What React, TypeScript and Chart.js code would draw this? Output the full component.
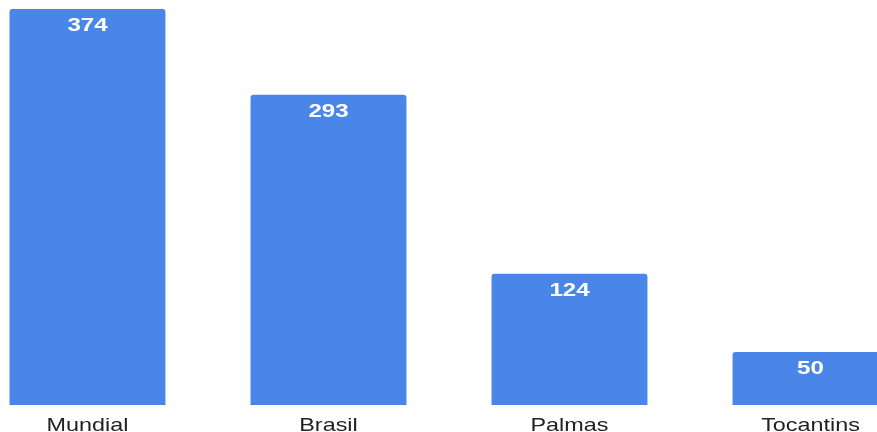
import React, { useEffect, useRef } from "react";
import { Chart, registerables } from "chart.js";

Chart.register(...registerables);

const categories = ["Mundial", "Brasil", "Palmas", "Tocantins"];
const values = [374, 293, 124, 50];

const FONT = "'Liberation Sans', Arial, sans-serif";

function stretchedText(ctx: CanvasRenderingContext2D, text: string, x: number, y: number, sx: number) {
  ctx.save();
  ctx.translate(x, y);
  ctx.scale(sx, 1);
  ctx.fillText(text, 0, 0);
  ctx.restore();
}

const labelPlugin = {
  id: "labels",
  afterDatasetsDraw(chart: any) {
    const ctx: CanvasRenderingContext2D = chart.ctx;
    const meta = chart.getDatasetMeta(0);
    const xScale = chart.scales.x;
    ctx.save();
    ctx.textAlign = "center";
    ctx.textBaseline = "alphabetic";
    ctx.fillStyle = "#ffffff";
    ctx.font = `bold 18px ${FONT}`;
    meta.data.forEach((bar: any, i: number) => {
      stretchedText(ctx, String(values[i]), bar.x, bar.y + 22, 1.34);
    });
    ctx.fillStyle = "#222222";
    ctx.font = `19px ${FONT}`;
    categories.forEach((c, i) => {
      stretchedText(ctx, c, xScale.getPixelForValue(i), chart.chartArea.bottom + 26, 1.23);
    });
    ctx.restore();
  },
};

export default function App() {
  const ref = useRef<HTMLCanvasElement>(null);
  useEffect(() => {
    if (!ref.current) return;
    const chart = new Chart(ref.current, {
      type: "bar",
      data: {
        labels: categories,
        datasets: [
          {
            data: values,
            backgroundColor: "#4a86e8",
            borderRadius: { topLeft: 3, topRight: 3, bottomLeft: 0, bottomRight: 0 },
            borderSkipped: false,
            barPercentage: 0.647,
            categoryPercentage: 1,
          },
        ],
      },
      options: {
        animation: false,
        responsive: false,
        maintainAspectRatio: false,
        layout: { padding: { top: 9, bottom: 27, left: 0, right: 0 } },
        plugins: { legend: { display: false }, tooltip: { enabled: false } },
        scales: {
          x: { display: false },
          y: { display: false, min: 0, max: 374 },
        },
      },
      plugins: [labelPlugin],
    });
    return () => chart.destroy();
  }, []);
  return (
    <div style={{ position: "fixed", left: 0, top: 0, width: 877, height: 432, overflow: "hidden", background: "#fff" }}>
      <canvas ref={ref} width={964} height={432} style={{ position: "absolute", left: -33, top: 0, width: 964, height: 432 }} />
    </div>
  );
}
